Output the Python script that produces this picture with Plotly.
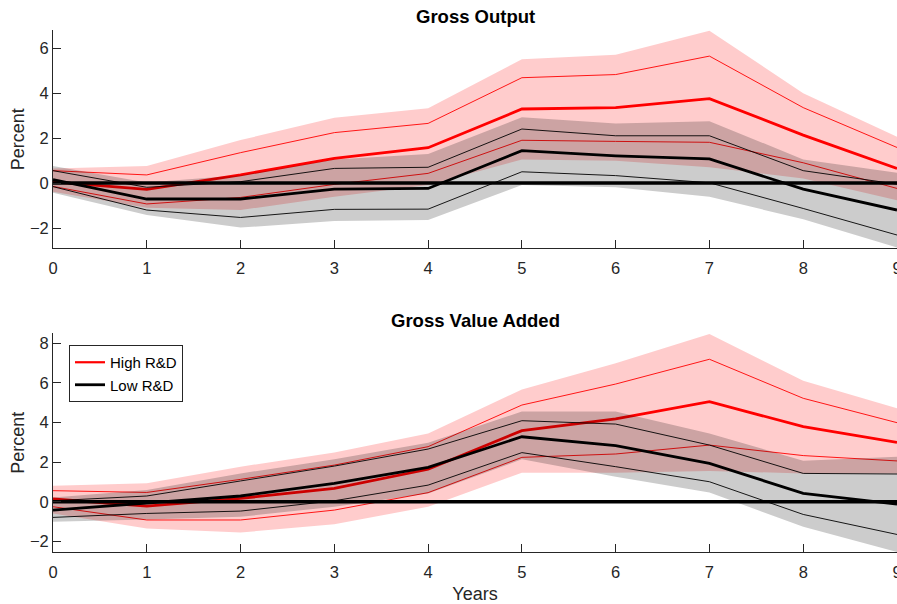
import plotly.graph_objects as go

years = [0, 1, 2, 3, 4, 5, 6, 7, 8, 9]

# Gross Output
go_high_med = [0.05, -0.28, 0.36, 1.10, 1.57, 3.29, 3.35, 3.75, 2.13, 0.65]
go_high_up = [0.55, 0.36, 1.35, 2.24, 2.65, 4.68, 4.82, 5.64, 3.35, 1.58]
go_high_lo = [-0.15, -0.93, -0.64, -0.06, 0.43, 1.90, 1.85, 1.81, 0.90, -0.24]
go_high_band_up = [0.65, 0.76, 1.91, 2.90, 3.32, 5.50, 5.70, 6.77, 3.99, 2.06]
go_high_band_lo = [-0.39, -1.10, -1.20, -0.61, -0.09, 1.05, 0.99, 0.70, 0.20, -0.76]

go_low_med = [0.15, -0.71, -0.71, -0.27, -0.24, 1.44, 1.21, 1.07, -0.27, -1.20]
go_low_up = [0.55, -0.19, 0.06, 0.65, 0.70, 2.40, 2.10, 2.10, 0.55, -0.05]
go_low_lo = [-0.16, -1.20, -1.53, -1.17, -1.16, 0.50, 0.33, 0.01, -1.13, -2.31]
go_low_band_up = [0.76, 0.02, 0.35, 1.05, 1.29, 2.92, 2.65, 2.75, 1.05, 0.46]
go_low_band_lo = [-0.43, -1.42, -1.98, -1.69, -1.64, -0.09, -0.19, -0.61, -1.61, -2.86]

# Gross Value Added
va_high_med = [0.14, -0.22, 0.17, 0.68, 1.64, 3.59, 4.18, 5.05, 3.79, 3.00]
va_high_up = [0.56, 0.47, 1.13, 1.85, 2.78, 4.88, 5.94, 7.19, 5.22, 3.99]
va_high_lo = [-0.25, -0.92, -0.92, -0.42, 0.46, 2.24, 2.41, 2.86, 2.33, 2.06]
va_high_band_up = [0.81, 0.93, 1.77, 2.49, 3.45, 5.67, 6.99, 8.47, 6.10, 4.72]
va_high_band_lo = [-0.59, -1.35, -1.55, -1.14, -0.25, 1.47, 1.47, 1.55, 1.43, 1.43]

va_low_med = [-0.42, -0.08, 0.29, 0.93, 1.74, 3.28, 2.83, 1.94, 0.42, -0.12]
va_low_up = [0.05, 0.29, 1.05, 1.80, 2.66, 4.09, 3.92, 2.86, 1.43, 1.40]
va_low_lo = [-0.79, -0.59, -0.47, 0.05, 0.84, 2.48, 1.77, 1.01, -0.64, -1.65]
va_low_band_up = [0.22, 0.59, 1.43, 2.14, 2.98, 4.55, 4.55, 3.45, 2.07, 2.27]
va_low_band_lo = [-1.01, -0.89, -0.76, -0.25, 0.42, 2.14, 1.26, 0.47, -1.26, -2.53]

zero = [0] * len(years)

RED = "rgb(255,0,0)"
BLACK = "rgb(0,0,0)"
RED_FILL = "rgba(255,0,0,0.2)"
GRAY_FILL = "rgba(0,0,0,0.2)"

fig = go.Figure()


def add_panel(xa, ya, hm, hu, hl, hbu, hbl, lm, lu, ll, lbu, lbl, legend):
    # high band
    fig.add_trace(go.Scatter(x=years + years[::-1], y=hbu + hbl[::-1], fill="toself",
                             fillcolor=RED_FILL, line=dict(width=0), mode="lines",
                             hoverinfo="skip", showlegend=False, xaxis=xa, yaxis=ya))
    for arr in (hu, hl):
        fig.add_trace(go.Scatter(x=years, y=arr, mode="lines", line=dict(color=RED, width=0.9),
                                 showlegend=False, xaxis=xa, yaxis=ya))
    fig.add_trace(go.Scatter(x=years, y=hm, mode="lines", line=dict(color=RED, width=2.8),
                             showlegend=False, xaxis=xa, yaxis=ya))
    # low band
    fig.add_trace(go.Scatter(x=years + years[::-1], y=lbu + lbl[::-1], fill="toself",
                             fillcolor=GRAY_FILL, line=dict(width=0), mode="lines",
                             hoverinfo="skip", showlegend=False, xaxis=xa, yaxis=ya))
    for arr in (lu, ll):
        fig.add_trace(go.Scatter(x=years, y=arr, mode="lines", line=dict(color=BLACK, width=0.9),
                                 showlegend=False, xaxis=xa, yaxis=ya))
    fig.add_trace(go.Scatter(x=years, y=lm, mode="lines", line=dict(color=BLACK, width=2.8),
                             showlegend=False, xaxis=xa, yaxis=ya))
    fig.add_trace(go.Scatter(x=years, y=zero, mode="lines", line=dict(color=BLACK, width=3.5),
                             showlegend=False, xaxis=xa, yaxis=ya))
    if legend:
        fig.add_trace(go.Scatter(x=[None], y=[None], mode="lines", name="High R&D",
                                 line=dict(color=RED, width=2.2), xaxis=xa, yaxis=ya))
        fig.add_trace(go.Scatter(x=[None], y=[None], mode="lines", name="Low R&D",
                                 line=dict(color=BLACK, width=2.8), xaxis=xa, yaxis=ya))


add_panel("x", "y", go_high_med, go_high_up, go_high_lo, go_high_band_up, go_high_band_lo,
          go_low_med, go_low_up, go_low_lo, go_low_band_up, go_low_band_lo, False)
add_panel("x2", "y2", va_high_med, va_high_up, va_high_lo, va_high_band_up, va_high_band_lo,
          va_low_med, va_low_up, va_low_lo, va_low_band_up, va_low_band_lo, True)

AX = "#262626"
FONT = "Liberation Sans, Arial, sans-serif"
xcommon = dict(range=[0, 9], tickmode="array", tickvals=years, ticks="inside", ticklen=8,
               tickcolor=AX, showline=True, linecolor=AX, linewidth=1, showgrid=False,
               zeroline=False, tickfont=dict(size=16.5, color=AX, family=FONT),
               ticklabeloverflow="allow", automargin=False, ticklabelstandoff=5)
ycommon = dict(dtick=2, ticks="inside", ticklen=8, tickcolor=AX, showline=True, linecolor=AX,
               linewidth=1, showgrid=False, zeroline=False, automargin=False,
               tickfont=dict(size=16.5, color=AX, family=FONT),
               title=dict(text="Percent", font=dict(size=18, color=AX, family=FONT), standoff=0))

H = 604.0
fig.update_layout(
    width=897, height=604,
    margin=dict(l=53, r=0, t=0, b=0, autoexpand=False),
    paper_bgcolor="white", plot_bgcolor="white",
    font=dict(family=FONT, color=AX),
    xaxis=dict(domain=[0, 1], anchor="y", **xcommon),
    yaxis=dict(domain=[(H - 248.3) / H, (H - 30) / H], anchor="x", range=[-2.9, 6.8], **ycommon),
    xaxis2=dict(domain=[0, 1], anchor="y2",
                title=dict(text="Years", font=dict(size=18, color=AX, family=FONT), standoff=8),
                **xcommon),
    yaxis2=dict(domain=[(H - 552.3) / H, (H - 333.3) / H], anchor="x2", range=[-2.55, 8.5], **ycommon),
    legend=dict(x=(69 - 53) / 844, y=(H - 345) / H, xanchor="left", yanchor="top",
                bordercolor=AX, borderwidth=1, bgcolor="white",
                font=dict(size=15, color="black", family=FONT), tracegroupgap=0),
    annotations=[
        dict(text="<b>Gross Output</b>", x=0.5, y=(H - 16) / H, xref="paper", yref="paper",
             xanchor="center", yanchor="middle",
             showarrow=False, font=dict(size=18.5, color="black", family=FONT)),
        dict(text="<b>Gross Value Added</b>", x=0.5, y=(H - 320) / H, xref="paper", yref="paper",
             xanchor="center", yanchor="middle",
             showarrow=False, font=dict(size=18.5, color="black", family=FONT)),
    ],
    showlegend=True,
)

fig.write_html("out.html")
